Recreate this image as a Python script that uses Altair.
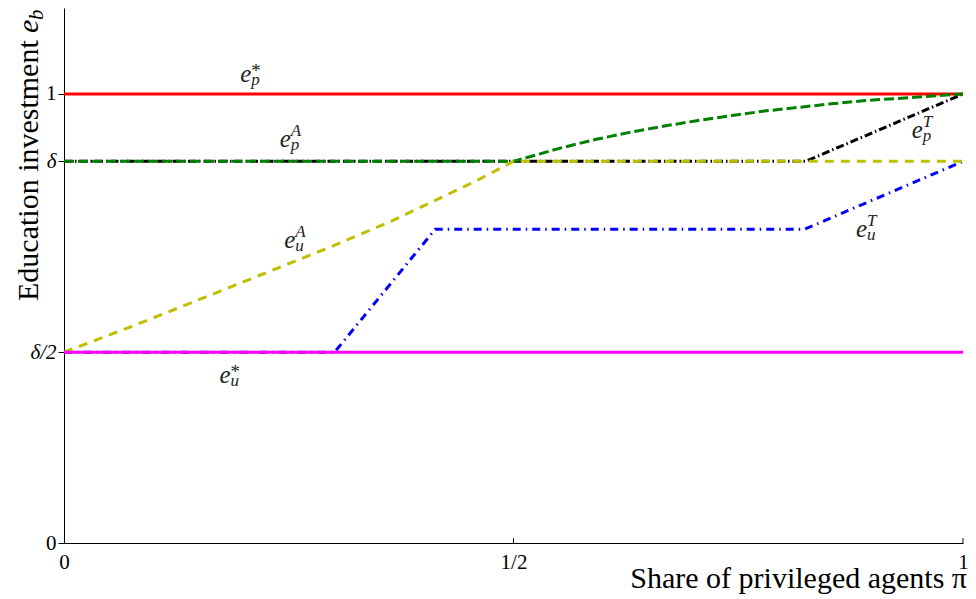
import altair as alt
import pandas as pd

FONT = "Liberation Serif"

# ---------------- data ----------------
delta = 0.85

# e_p^*  (red, solid)
ep_star_x = [0.0, 1.0]
ep_star_y = [1.0, 1.0]

# e_u^*  (magenta, solid)
eu_star_x = [0.0, 1.0]
eu_star_y = [0.425, 0.425]

# e_p^A  (green, dashed)
epA_x = [0.0, 0.5, 0.514, 0.553, 0.592, 0.628, 0.666, 0.702, 0.743, 0.779,
         0.816, 0.853, 0.889, 0.927, 0.963, 1.0]
epA_y = [0.85, 0.85, 0.858, 0.88, 0.899, 0.914, 0.928, 0.94, 0.952, 0.962,
         0.97, 0.978, 0.985, 0.99, 0.995, 1.0]

# e_u^A  (yellow, dashed)
euA_x = [0.0, 0.075, 0.149, 0.22, 0.296, 0.36, 0.414, 0.46, 0.5, 1.0]
euA_y = [0.425, 0.482, 0.541, 0.598, 0.659, 0.713, 0.764, 0.808, 0.85, 0.85]

# e_p^T  (black, dash-dot)
epT_x = [0.0, 0.825, 1.0]
epT_y = [0.85, 0.85, 1.0]

# e_u^T  (blue, dash-dot)
euT_x = [0.0, 0.301, 0.413, 0.824, 1.0]
euT_y = [0.425, 0.425, 0.699, 0.699, 0.85]

# curve labels e_{sub}^{sup}
label_x = [0.196, 0.240, 0.245, 0.173, 0.943, 0.881]
label_y = [1.027, 0.882, 0.657, 0.356, 0.902, 0.6815]
label_sub = ["p", "p", "u", "u", "p", "u"]
label_sup = ["*", "A", "A", "*", "T", "T"]

# axes
x_tick_vals = [0.0, 0.5, 1.0]
x_tick_labels = ["0", "1/2", "1"]
y_tick_vals = [0.0, 0.425, 0.85, 1.0]
y_tick_labels = ["0", "δ/2", "δ", "1"]
x_title = "Share of privileged agents π"
y_title = "Education investment"

# ---------------- build tables ----------------
series = [
    ("epT", epT_x, epT_y, "#000000", [8, 3, 1.5, 3]),
    ("euT", euT_x, euT_y, "#0000ff", [8, 5, 1.5, 5]),
    ("epS", ep_star_x, ep_star_y, "#ff0000", None),
    ("epA", epA_x, epA_y, "#008000", [10, 4]),
    ("euA", euA_x, euA_y, "#bfbf00", [9, 7]),
    ("euS", eu_star_x, eu_star_y, "#ff00ff", None),
]
rows = []
for name, xs, ys, _, _ in series:
    for i, (a, b) in enumerate(zip(xs, ys)):
        rows.append({"s": name, "i": i, "x": a, "y": b})
df = pd.DataFrame(rows)

lab = pd.DataFrame({"x": label_x, "y": label_y, "sub": label_sub,
                    "sup": label_sup, "e": ["e"] * len(label_x)})

W, H = 899, 535
ymax = 1.1915

def js_list(v):
    return "[" + ",".join(repr(a) if isinstance(a, str) else str(a) for a in v) + "]"

x_axis = alt.Axis(values=x_tick_vals,
                  labelExpr=f"{js_list(x_tick_labels)}[indexof({js_list(x_tick_vals)}, datum.value)]",
                  ticks=False, grid=False, title=None, domainColor="black",
                  domainWidth=1, labelFont=FONT, labelFontSize=21,
                  labelColor="black", labelPadding=8, labelFlush=False)
y_axis = alt.Axis(values=y_tick_vals,
                  labelExpr=f"{js_list(y_tick_labels)}[indexof({js_list(y_tick_vals)}, datum.value)]",
                  tickSize=6, tickColor="black", tickWidth=1, grid=False,
                  title=None, domainColor="black", domainWidth=1,
                  labelFont=FONT, labelFontSize=21, labelColor="black",
                  labelPadding=2,
                  labelFontStyle=alt.condition("datum.value > 0.3 && datum.value < 0.9",
                                               alt.value("italic"), alt.value("normal")))

X = alt.X("x:Q", scale=alt.Scale(domain=[0, 1], nice=False, zero=False), axis=x_axis)
Y = alt.Y("y:Q", scale=alt.Scale(domain=[0, ymax], nice=False, zero=False), axis=y_axis)

layers = []
for name, _, _, color, dash in series:
    mk = dict(color=color, strokeWidth=3)
    if dash:
        mk["strokeDash"] = dash
    layers.append(
        alt.Chart(df).transform_filter(alt.datum.s == name)
        .mark_line(**mk).encode(x=X, y=Y, order="i:Q")
    )

# inward x ticks
xt = pd.DataFrame({"x": x_tick_vals[1:], "y": [0.0] * 2, "y2": [0.011] * 2})
layers.append(alt.Chart(xt).mark_rule(color="black", strokeWidth=1)
              .encode(x=X, y=Y, y2="y2:Q"))

# curve labels
TXT = "#222222"
layers.append(alt.Chart(lab).mark_text(font=FONT, fontSize=25, fontStyle="italic",
                                       align="left", baseline="alphabetic", color=TXT)
              .encode(x=X, y=Y, text="e:N"))
layers.append(alt.Chart(lab).transform_filter(alt.datum.sup != "*")
              .mark_text(font=FONT, fontSize=17, fontStyle="italic", align="left",
                         baseline="alphabetic", dx=11, dy=-11, color=TXT)
              .encode(x=X, y=Y, text="sup:N"))
layers.append(alt.Chart(lab).transform_filter(alt.datum.sup == "*")
              .mark_text(font=FONT, fontSize=19, align="left",
                         baseline="alphabetic", dx=11, dy=-5, color=TXT)
              .encode(x=X, y=Y, text="sup:N"))
layers.append(alt.Chart(lab)
              .mark_text(font=FONT, fontSize=17, fontStyle="italic", align="left",
                         baseline="alphabetic", dx=11, dy=3, color=TXT)
              .encode(x=X, y=Y, text="sub:N"))

# axis titles
layers.append(alt.Chart(pd.DataFrame({"t": [y_title]}))
              .mark_text(font=FONT, fontSize=30, angle=270, align="left",
                         baseline="alphabetic", color="black")
              .encode(x=alt.value(-26), y=alt.value(293), text="t:N"))
layers.append(alt.Chart(pd.DataFrame({"t": ["e"]}))
              .mark_text(font=FONT, fontSize=30, fontStyle="italic", angle=270,
                         align="left", baseline="alphabetic", color="black")
              .encode(x=alt.value(-26), y=alt.value(25), text="t:N"))
layers.append(alt.Chart(pd.DataFrame({"t": ["b"]}))
              .mark_text(font=FONT, fontSize=21, fontStyle="italic", angle=270,
                         align="left", baseline="alphabetic", color="black")
              .encode(x=alt.value(-21), y=alt.value(12), text="t:N"))
layers.append(alt.Chart(pd.DataFrame({"t": [x_title]}))
              .mark_text(font=FONT, fontSize=30, align="right",
                         baseline="alphabetic", color="black")
              .encode(x=alt.value(W + 4), y=alt.value(H + 45), text="t:N"))

chart = (alt.layer(*layers)
         .properties(width=W, height=H, autosize=alt.AutoSizeParams(type="none"),
                     padding={"left": 56, "top": 0, "right": 5, "bottom": 52},
                     background="white")
         .configure_view(stroke=None))

chart.save("out.html", embed_options={"renderer": "svg", "actions": False})
